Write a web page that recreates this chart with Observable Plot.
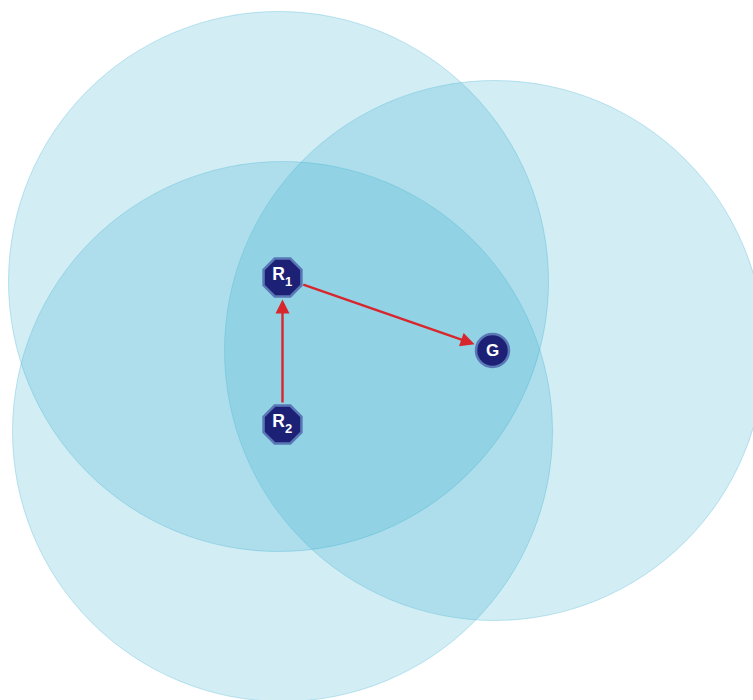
<!DOCTYPE html>
<html><head><meta charset="utf-8">
<script src="https://cdn.jsdelivr.net/npm/d3@7"></script>
<script src="https://cdn.jsdelivr.net/npm/@observablehq/plot@0.6"></script>
<style>
html,body{margin:0;padding:0;background:#fff;overflow:hidden;}
#chart svg{display:block;overflow:hidden !important;}
</style>
</head><body><div id="chart"></div>
<script>
// Coverage circles (centre positions, same units as the picture)
const circleNames = ["R1", "R2", "G"];
const circleX = [278, 282, 494];
const circleY = [281, 431, 350];

// Nodes
const nodeNames = ["R1", "R2", "G"];
const nodeX = [282, 282, 492];
const nodeY = [277, 424, 350];
const nodeShape = ["octagon", "octagon", "circle"];
const labelMain = ["R", "R", "G"];
const labelSub = ["1", "2", ""];

// Directed edges
const edgeFrom = ["R2", "R1"];
const edgeTo = ["R1", "G"];

// ---- build tables ----
const circles = circleNames.map((n, i) => ({name: n, x: circleX[i], y: circleY[i]}));
const nodes = nodeNames.map((n, i) => ({name: n, x: nodeX[i], y: nodeY[i], shape: nodeShape[i], main: labelMain[i], sub: labelSub[i]}));
const byName = Object.fromEntries(nodes.map(d => [d.name, d]));

const nodeInset = {octagon: 22, circle: 19};
const headBack = 10;
const edges = edgeFrom.map((f, i) => {
  const a = byName[f], b = byName[edgeTo[i]];
  const dx = b.x - a.x, dy = b.y - a.y, L = Math.hypot(dx, dy);
  const ux = dx / L, uy = dy / L;
  const s = nodeInset[a.shape], e = nodeInset[b.shape];
  const tx = b.x - ux * e, ty = b.y - uy * e;
  return {
    x1: a.x + ux * s, y1: a.y + uy * s,
    x2: tx - ux * headBack, y2: ty - uy * headBack,
    tx, ty, rot: Math.atan2(ux, -uy) * 180 / Math.PI
  };
});

// ---- custom symbols ----
const octagon = {draw(ctx, size) {
  const r = Math.sqrt(size / Math.PI);
  for (let k = 0; k < 8; k++) {
    const a = Math.PI / 8 + k * Math.PI / 4;
    const x = r * Math.cos(a), y = r * Math.sin(a);
    k ? ctx.lineTo(x, y) : ctx.moveTo(x, y);
  }
  ctx.closePath();
}};
const arrowHead = {draw(ctx, size) {
  const r = Math.sqrt(size / Math.PI);
  ctx.moveTo(0, 0);
  ctx.lineTo(-r * 0.5, r);
  ctx.lineTo(r * 0.5, r);
  ctx.closePath();
}};

const font = "Liberation Sans, Arial, Helvetica, sans-serif";
const octNodes = nodes.filter(d => d.shape === "octagon");
const circNodes = nodes.filter(d => d.shape === "circle");

const chart = Plot.plot({
  width: 753, height: 700, margin: 0,
  x: {domain: [0, 753], range: [0, 753], axis: null},
  y: {domain: [0, 700], range: [0, 700], axis: null},
  marks: [
    Plot.dot(circles, {x: "x", y: "y", r: 270, fill: "#20a4c8", fillOpacity: 0.2, stroke: "#4fb8d6", strokeOpacity: 0.35, strokeWidth: 1}),
    Plot.link(edges, {x1: "x1", y1: "y1", x2: "x2", y2: "y2", stroke: "#d8262d", strokeWidth: 2.4}),
    Plot.dot(edges, {x: "tx", y: "ty", rotate: "rot", symbol: arrowHead, r: 14, fill: "#d8262d", stroke: "none"}),
    Plot.dot(octNodes, {x: "x", y: "y", symbol: octagon, r: 20.5, fill: "#1d2176", stroke: "#5a78b6", strokeWidth: 2.5}),
    Plot.dot(circNodes, {x: "x", y: "y", r: 16.5, fill: "#1d2176", stroke: "#5a78b6", strokeWidth: 2.5}),
    Plot.text(octNodes, {x: "x", y: "y", text: "main", dx: -4, dy: -3, fill: "white", fontSize: 17.5, fontWeight: "bold", fontFamily: font, textAnchor: "middle", lineAnchor: "middle"}),
    Plot.text(octNodes, {x: "x", y: "y", text: "sub", dx: 6, dy: 4, fill: "white", fontSize: 13, fontWeight: "bold", fontFamily: font, textAnchor: "middle", lineAnchor: "middle"}),
    Plot.text(circNodes, {x: "x", y: "y", text: "main", fill: "white", fontSize: 17, fontWeight: "bold", fontFamily: font, textAnchor: "middle", lineAnchor: "middle"})
  ]
});
document.getElementById("chart").appendChild(chart);
</script>
</body></html>
